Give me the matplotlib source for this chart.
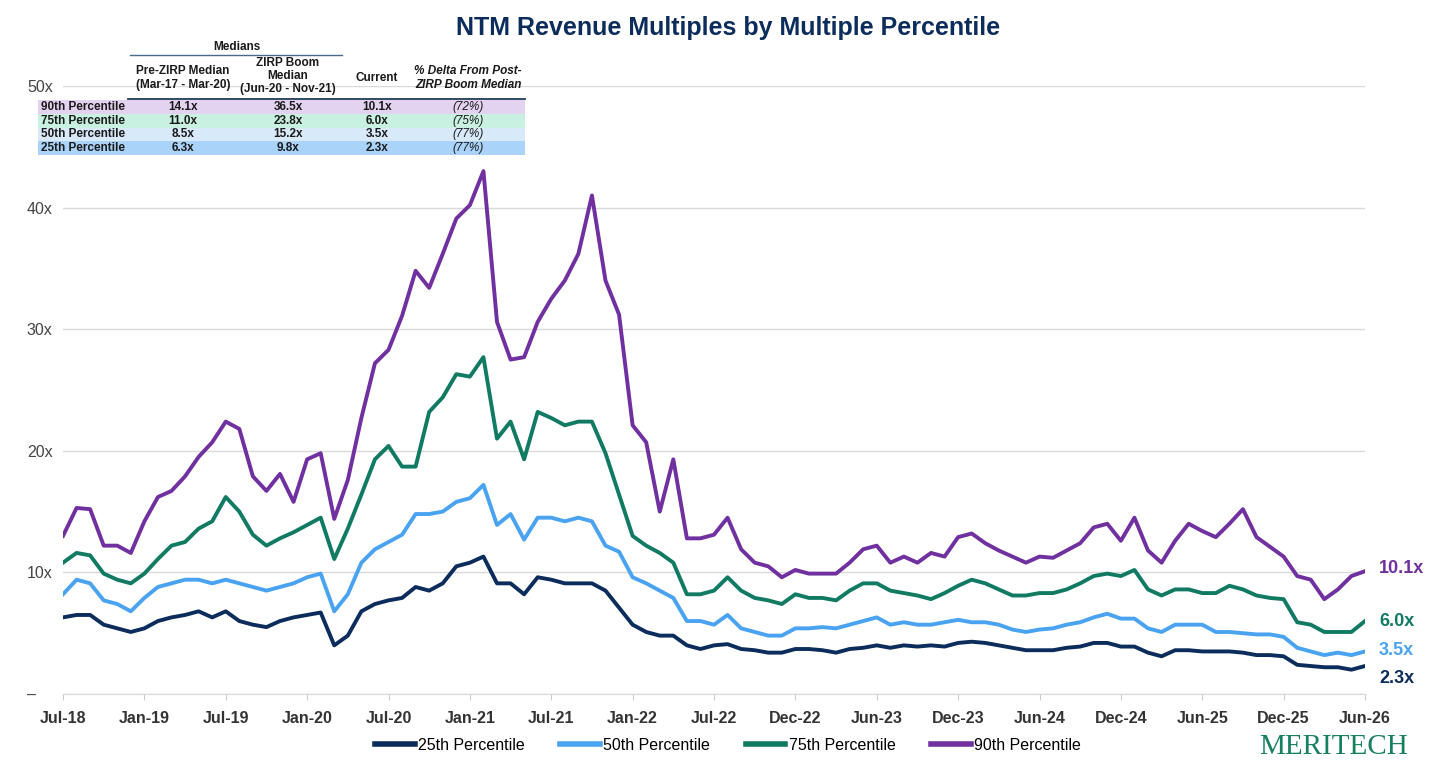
import matplotlib.pyplot as plt
from matplotlib.patches import Rectangle
from matplotlib.lines import Line2D

# --- data (monthly readings, Jul-18 .. Jun-26) ---
p90 = [13.0, 15.3, 15.2, 12.2, 12.2, 11.6, 14.2, 16.2, 16.7, 17.9, 19.5, 20.7, 22.4, 21.8, 17.9, 16.7,
       18.1, 15.8, 19.3, 19.8, 14.4, 17.6, 22.7, 27.2, 28.3, 31.1, 34.8, 33.4, 36.2, 39.1, 40.2, 43.0,
       30.6, 27.5, 27.7, 30.6, 32.5, 34.0, 36.2, 41.0, 34.0, 31.2, 22.1, 20.7, 15.0, 19.3, 12.8, 12.8,
       13.1, 14.5, 11.9, 10.8, 10.5, 9.6, 10.2, 9.9, 9.9, 9.9, 10.8, 11.9, 12.2, 10.8, 11.3, 10.8,
       11.6, 11.3, 12.9, 13.2, 12.4, 11.8, 11.3, 10.8, 11.3, 11.2, 11.8, 12.4, 13.7, 14.0, 12.6, 14.5,
       11.8, 10.8, 12.6, 14.0, 13.4, 12.9, 14.0, 15.2, 12.9, 12.1, 11.3, 9.7, 9.4, 7.8, 8.6, 9.7, 10.1]
p75 = [10.8, 11.6, 11.4, 9.9, 9.4, 9.1, 9.9, 11.1, 12.2, 12.5, 13.6, 14.2, 16.2, 15.0, 13.1, 12.2,
       12.8, 13.3, 13.9, 14.5, 11.1, 13.6, 16.4, 19.3, 20.4, 18.7, 18.7, 23.2, 24.4, 26.3, 26.1, 27.7,
       21.0, 22.4, 19.3, 23.2, 22.7, 22.1, 22.4, 22.4, 19.8, 16.4, 13.0, 12.2, 11.6, 10.8, 8.2, 8.2,
       8.5, 9.6, 8.5, 7.9, 7.7, 7.4, 8.2, 7.9, 7.9, 7.7, 8.5, 9.1, 9.1, 8.5, 8.3, 8.1,
       7.8, 8.3, 8.9, 9.4, 9.1, 8.6, 8.1, 8.1, 8.3, 8.3, 8.6, 9.1, 9.7, 9.9, 9.7, 10.2,
       8.6, 8.1, 8.6, 8.6, 8.3, 8.3, 8.9, 8.6, 8.1, 7.9, 7.8, 5.9, 5.7, 5.1, 5.1, 5.1, 6.0]
p50 = [8.2, 9.4, 9.1, 7.7, 7.4, 6.8, 7.9, 8.8, 9.1, 9.4, 9.4, 9.1, 9.4, 9.1, 8.8, 8.5,
       8.8, 9.1, 9.6, 9.9, 6.8, 8.2, 10.8, 11.9, 12.5, 13.1, 14.8, 14.8, 15.0, 15.8, 16.1, 17.2,
       13.9, 14.8, 12.7, 14.5, 14.5, 14.2, 14.5, 14.2, 12.2, 11.7, 9.6, 9.1, 8.5, 7.9, 6.0, 6.0,
       5.7, 6.5, 5.4, 5.1, 4.8, 4.8, 5.4, 5.4, 5.5, 5.4, 5.7, 6.0, 6.3, 5.7, 5.9, 5.7,
       5.7, 5.9, 6.1, 5.9, 5.9, 5.7, 5.3, 5.1, 5.3, 5.4, 5.7, 5.9, 6.3, 6.6, 6.2, 6.2,
       5.4, 5.1, 5.7, 5.7, 5.7, 5.1, 5.1, 5.0, 4.9, 4.9, 4.7, 3.8, 3.5, 3.2, 3.4, 3.2, 3.5]
p25 = [6.3, 6.5, 6.5, 5.7, 5.4, 5.1, 5.4, 6.0, 6.3, 6.5, 6.8, 6.3, 6.8, 6.0, 5.7, 5.5,
       6.0, 6.3, 6.5, 6.7, 4.0, 4.8, 6.8, 7.4, 7.7, 7.9, 8.8, 8.5, 9.1, 10.5, 10.8, 11.3,
       9.1, 9.1, 8.2, 9.6, 9.4, 9.1, 9.1, 9.1, 8.5, 7.1, 5.7, 5.1, 4.8, 4.8, 4.0, 3.7,
       4.0, 4.1, 3.7, 3.6, 3.4, 3.4, 3.7, 3.7, 3.6, 3.4, 3.7, 3.8, 4.0, 3.8, 4.0, 3.9,
       4.0, 3.9, 4.2, 4.3, 4.2, 4.0, 3.8, 3.6, 3.6, 3.6, 3.8, 3.9, 4.2, 4.2, 3.9, 3.9,
       3.4, 3.1, 3.6, 3.6, 3.5, 3.5, 3.5, 3.4, 3.2, 3.2, 3.1, 2.4, 2.3, 2.2, 2.2, 2.0, 2.3]
tick_labels = ['Jul-18', 'Jan-19', 'Jul-19', 'Jan-20', 'Jul-20', 'Jan-21', 'Jul-21', 'Jan-22', 'Jul-22',
               'Dec-22', 'Jun-23', 'Dec-23', 'Jun-24', 'Dec-24', 'Jun-25', 'Dec-25', 'Jun-26']

series_names = ['25th Percentile', '50th Percentile', '75th Percentile', '90th Percentile']
current_labels = ['2.3x', '3.5x', '6.0x', '10.1x']
colors = ['#0C2C5C', '#4AA3F0', '#117A63', '#7030A0']

table_rows = ['90th Percentile', '75th Percentile', '50th Percentile', '25th Percentile']
pre_zirp = ['14.1x', '11.0x', '8.5x', '6.3x']
zirp_boom = ['36.5x', '23.8x', '15.2x', '9.8x']
current = ['10.1x', '6.0x', '3.5x', '2.3x']
delta = ['(72%)', '(75%)', '(77%)', '(77%)']
row_colors = ['#E4D3F0', '#C8F1E2', '#D8E9FA', '#AAD3FA']

W, H = 1456, 770
fig = plt.figure(figsize=(W / 100, H / 100), dpi=100)
plt.rcParams['font.family'] = ['Liberation Sans', 'DejaVu Sans']
ax = fig.add_axes([63 / W, 1 - 694 / H, (1365 - 63) / W, (694 - 86) / H])

months = list(range(len(p25)))
for vals, c, name in zip([p25, p50, p75, p90], colors, series_names):
    ax.plot(months, vals, color=c, lw=2.8, label=name)

ax.set_xlim(0, 96)
ax.set_ylim(0, 50)
ax.set_xticks(range(0, 97, 6))
ax.set_xticklabels(tick_labels, fontsize=11.5, fontweight='bold', color='#333333')
ax.set_yticks(range(0, 51, 10))
ax.set_yticklabels(['–'] + [f'{v}x' for v in range(10, 51, 10)], fontsize=11.5, color='#444444')
ax.tick_params(axis='y', length=0, pad=26)
ax.tick_params(axis='x', length=4, color='#cccccc', pad=8)
for lab in ax.get_yticklabels():
    lab.set_horizontalalignment('left')
ax.grid(axis='y', color='#d9d9d9', lw=1)
for s in ['top', 'right', 'left']:
    ax.spines[s].set_visible(False)
ax.spines['bottom'].set_color('#d9d9d9')

# end-of-line labels
offsets = [-1.0, 0.1, 0, 0.2]
for vals, c, lab, off in zip([p25, p50, p75, p90], colors, current_labels, offsets):
    ax.annotate(lab, (96, vals[-1] + off), xytext=(10, 0), textcoords='offset points',
                va='center', ha='left', fontsize=13, fontweight='bold', color=c,
                annotation_clip=False)

fig.text(0.5, 1 - 28 / H, 'NTM Revenue Multiples by Multiple Percentile', ha='center', va='center',
         fontsize=18, fontweight='bold', color='#0C2C5C')

handles = [Line2D([0], [0], color=c, lw=4) for c in colors]
fig.legend(handles, series_names, loc='center', bbox_to_anchor=(0.5, 1 - 745 / H), ncol=4,
           frameon=False, fontsize=11.5, handlelength=2.5, handletextpad=0.2, columnspacing=2.2)

fig.text(1408 / W, 1 - 747 / H, 'MERITECH', ha='right', va='center', fontsize=21,
         family='Liberation Serif', color='#17805F')

# --- medians table ---
def fx(x):
    return x / W


def fy(y):
    return 1 - y / H


txt = dict(fontsize=8.5, fontweight='bold', color='#1a1a1a', va='center')
col_x = [183, 288, 377, 468]
fig.text(fx(237), fy(47), 'Medians', ha='center', **txt)
fig.add_artist(Line2D([fx(130), fx(342)], [fy(55), fy(55)], color='#4a6a8a', lw=1))
fig.text(fx(col_x[0]), fy(78), 'Pre-ZIRP Median\n(Mar-17 - Mar-20)', ha='center', linespacing=1.15, **txt)
fig.text(fx(col_x[1]), fy(76), 'ZIRP Boom\nMedian\n(Jun-20 - Nov-21)', ha='center', linespacing=1.15, **txt)
fig.text(fx(col_x[2]), fy(78), 'Current', ha='center', **txt)
fig.text(fx(col_x[3]), fy(78), '% Delta From Post-\nZIRP Boom Median', ha='center', linespacing=1.15,
         fontsize=8.5, fontweight='bold', style='italic', color='#1a1a1a', va='center')
fig.add_artist(Line2D([fx(128), fx(525)], [fy(99), fy(99)], color='#1f3b5a', lw=1.3))

row_h = 13.7
for i, (name, a, b, c, d, rc) in enumerate(zip(table_rows, pre_zirp, zirp_boom, current, delta, row_colors)):
    yc = 107 + i * row_h
    fig.add_artist(Rectangle((fx(38), fy(yc + row_h / 2)), fx(525) - fx(38), row_h / H,
                             transform=fig.transFigure, facecolor=rc, edgecolor='none'))
    fig.text(fx(41), fy(yc), name, ha='left', **txt)
    for xc, v in zip(col_x[:3], [a, b, c]):
        fig.text(fx(xc), fy(yc), v, ha='center', **txt)
    fig.text(fx(col_x[3]), fy(yc), d, ha='center', fontsize=8.5, style='italic', color='#1a1a1a', va='center')

fig.savefig('out.png', dpi=100)
